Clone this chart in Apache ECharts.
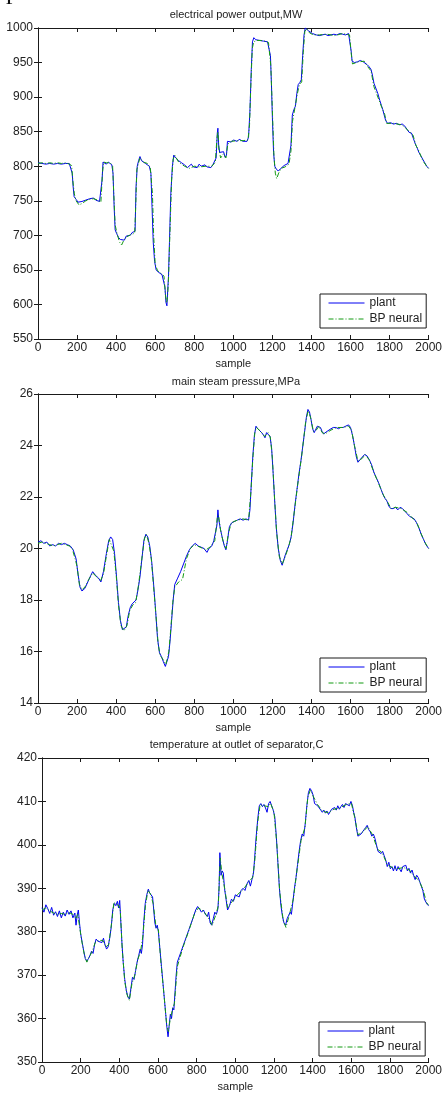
<!DOCTYPE html>
<html>
<head>
<meta charset="utf-8">
<script src="https://cdn.jsdelivr.net/npm/echarts@6/dist/echarts.min.js"></script>
<style>
html,body{margin:0;padding:0;background:#fff;}
#chart{width:445px;height:1093px;}
</style>
</head>
<body>
<div id="chart"></div>
<script>
const titles = ['electrical power output,MW', 'main steam pressure,MPa', 'temperature at outlet of separator,C'];
const seriesNames = ['plant', 'BP neural'];
const xTicks = { min: 0, max: 2000, interval: 200 };
const yTicks = [
  { min: 550, max: 1000, interval: 50 },
  { min: 14, max: 26, interval: 2 },
  { min: 350, max: 420, interval: 10 }
];

const powerPlant = [[0,805],[10,806],[20,804],[30,805],[40,803],[50,805],[60,804],[70,806],[80,803],[90,805],[100,804],[110,806],[120,803],[130,805],[140,804],[150,802],[160,804],[170,803],[175,790],[180,770],[185,756],[195,752],[205,748],[215,746],[225,749],[235,748],[245,751],[255,750],[265,753],[275,752],[285,754],[295,751],[305,752],[315,749],[322,750],[328,780],[333,806],[340,808],[350,803],[360,806],[370,804],[378,802],[384,790],[390,740],[395,708],[402,703],[412,697],[422,694],[432,696],[442,693],[452,699],[462,701],[472,700],[482,704],[492,702],[497,706],[502,770],[508,800],[515,808],[522,814],[530,808],[540,806],[550,804],[560,806],[570,800],[578,790],[584,740],[590,690],[597,662],[605,650],[615,647],[625,646],[635,643],[645,644],[650,625],[655,603],[660,598],[664,620],[668,640],[673,690],[680,760],[688,800],[695,816],[700,817],[705,812],[720,808],[735,805],[750,802],[765,798],[775,800],[785,803],[795,799],[805,801],[815,798],[825,803],[835,800],[845,798],[855,802],[865,799],[875,801],[885,798],[895,802],[905,803],[912,812],[918,848],[921,855],[925,830],[930,820],[940,818],[950,821],[958,813],[965,816],[970,836],[980,838],[990,835],[1000,838],[1010,837],[1020,836],[1030,839],[1040,837],[1050,836],[1060,838],[1070,836],[1078,842],[1085,880],[1092,940],[1098,980],[1105,986],[1115,983],[1125,984],[1135,982],[1145,983],[1155,981],[1165,982],[1175,980],[1185,978],[1190,960],[1195,920],[1200,870],[1206,820],[1212,800],[1220,796],[1230,793],[1240,796],[1250,798],[1260,801],[1270,800],[1280,804],[1288,806],[1295,830],[1302,874],[1310,882],[1318,887],[1325,905],[1332,918],[1340,921],[1348,925],[1355,960],[1362,990],[1368,1000],[1375,998],[1385,996],[1395,994],[1405,992],[1415,991],[1425,990],[1440,989],[1455,990],[1470,991],[1485,989],[1500,990],[1515,991],[1530,990],[1545,992],[1560,991],[1575,990],[1590,992],[1598,990],[1604,965],[1608,952],[1620,950],[1635,951],[1650,953],[1665,951],[1675,953],[1685,947],[1695,944],[1705,940],[1712,932],[1720,920],[1730,918],[1740,905],[1750,895],[1758,888],[1765,882],[1772,880],[1780,866],[1790,862],[1805,863],[1820,861],[1835,862],[1850,860],[1865,861],[1878,858],[1890,853],[1900,849],[1912,848],[1922,840],[1932,832],[1942,826],[1950,820],[1960,815],[1970,810],[1980,805],[1990,800],[2000,797]];

const powerNeural = [[0,804],[20,805],[40,804],[60,805],[80,804],[100,805],[120,804],[140,805],[160,803],[172,801],[178,780],[186,760],[195,750],[210,744],[225,746],[245,750],[265,752],[285,753],[305,751],[322,748],[330,790],[336,806],[350,805],[370,805],[382,800],[388,760],[395,715],[405,702],[418,690],[428,686],[438,692],[455,698],[475,701],[495,703],[500,740],[506,795],[515,805],[522,812],[540,806],[560,804],[575,798],[586,760],[592,700],[600,658],[612,649],[630,645],[645,641],[652,615],[658,602],[663,610],[668,635],[675,700],[684,780],[692,810],[700,816],[720,806],[750,800],[775,797],[800,800],[830,799],[860,800],[890,800],[908,806],[916,840],[921,850],[926,825],[935,812],[950,818],[962,812],[972,832],[990,836],[1020,837],[1050,837],[1075,838],[1083,860],[1090,920],[1097,970],[1104,980],[1120,982],[1140,982],[1160,981],[1180,979],[1192,945],[1200,880],[1208,815],[1215,790],[1222,782],[1232,790],[1245,797],[1265,799],[1285,803],[1295,822],[1303,865],[1315,884],[1328,905],[1338,918],[1350,922],[1358,965],[1366,995],[1375,999],[1390,993],[1410,990],[1440,990],[1480,991],[1520,989],[1560,992],[1595,990],[1604,962],[1610,948],[1640,951],[1670,952],[1688,944],[1705,938],[1720,915],[1740,900],[1760,885],[1775,875],[1785,862],[1820,862],[1860,860],[1880,856],[1900,850],[1920,845],[1935,830],[1950,822],[1970,808],[2000,796]];

const pressurePlant = [[0,20.25],[15,20.3],[30,20.2],[45,20.25],[60,20.1],[75,20.15],[90,20.1],[105,20.2],[120,20.15],[135,20.2],[150,20.15],[165,20.1],[180,19.95],[195,19.6],[205,19.0],[215,18.5],[225,18.35],[240,18.45],[255,18.7],[270,18.95],[280,19.1],[295,18.95],[310,18.85],[322,18.7],[335,19.1],[350,19.8],[362,20.3],[372,20.45],[382,20.35],[392,19.8],[402,18.9],[412,17.9],[422,17.2],[432,16.85],[442,16.8],[452,16.95],[462,17.4],[472,17.7],[482,17.85],[492,17.8],[502,18.0],[512,18.4],[522,18.9],[532,19.6],[542,20.3],[552,20.55],[562,20.45],[572,20.1],[582,19.5],[592,18.6],[602,17.6],[612,16.5],[622,15.95],[632,15.8],[642,15.6],[652,15.42],[660,15.4],[668,15.8],[676,16.4],[684,17.2],[692,18.0],[700,18.6],[715,18.85],[730,19.1],[745,19.4],[760,19.7],[775,19.95],[790,20.1],[805,20.2],[820,20.1],[835,20.05],[850,20.0],[865,19.85],[875,20.0],[890,20.1],[900,20.3],[910,20.35],[916,20.9],[921,21.5],[926,21.1],[934,20.75],[944,20.4],[954,20.1],[962,19.95],[970,20.3],[980,20.85],[992,21.0],[1005,21.05],[1020,21.1],[1035,21.15],[1050,21.1],[1065,21.15],[1078,21.1],[1085,21.5],[1092,22.5],[1100,23.6],[1108,24.4],[1116,24.75],[1125,24.65],[1135,24.6],[1145,24.5],[1155,24.4],[1162,24.3],[1170,24.5],[1180,24.5],[1188,24.35],[1196,23.9],[1204,22.9],[1212,21.8],[1220,20.8],[1230,20.0],[1240,19.55],[1250,19.35],[1258,19.4],[1266,19.75],[1276,19.95],[1286,20.15],[1296,20.45],[1306,21.0],[1316,21.7],[1326,22.3],[1336,22.9],[1346,23.4],[1356,24.0],[1366,24.6],[1374,25.1],[1382,25.4],[1390,25.3],[1398,25.0],[1406,24.65],[1414,24.5],[1422,24.55],[1430,24.75],[1438,24.8],[1446,24.7],[1454,24.55],[1462,24.45],[1470,24.5],[1480,24.55],[1490,24.6],[1500,24.65],[1512,24.7],[1525,24.7],[1538,24.65],[1550,24.7],[1562,24.7],[1575,24.75],[1590,24.8],[1600,24.7],[1610,24.4],[1620,24.0],[1630,23.55],[1638,23.35],[1648,23.4],[1660,23.55],[1672,23.65],[1684,23.6],[1696,23.45],[1708,23.25],[1720,22.95],[1732,22.75],[1744,22.55],[1756,22.3],[1766,22.1],[1776,21.95],[1786,21.85],[1796,21.65],[1806,21.55],[1818,21.55],[1830,21.6],[1842,21.5],[1854,21.6],[1866,21.55],[1878,21.45],[1890,21.35],[1902,21.25],[1914,21.2],[1926,21.15],[1938,21.0],[1950,20.8],[1962,20.55],[1974,20.35],[1986,20.15],[2000,20.0]];

const pressureNeural = [[0,20.2],[20,20.25],[40,20.2],[60,20.15],[80,20.1],[100,20.15],[120,20.2],[140,20.15],[160,20.1],[175,20.0],[190,19.6],[200,19.3],[212,18.6],[225,18.4],[240,18.5],[260,18.8],[280,19.05],[300,18.9],[320,18.75],[335,19.0],[350,19.7],[365,20.35],[375,20.4],[388,19.9],[400,19.0],[412,17.8],[425,17.0],[440,16.8],[455,17.0],[470,17.6],[485,17.8],[500,17.9],[515,18.6],[530,19.5],[545,20.4],[555,20.55],[568,20.2],[580,19.6],[592,18.5],[605,17.3],[615,16.3],[625,15.85],[635,15.75],[645,15.8],[655,15.5],[662,15.55],[670,16.0],[680,16.9],[690,17.9],[700,18.5],[720,18.7],[740,18.8],[760,19.6],[780,20.0],[800,20.15],[830,20.05],[860,19.95],[880,20.05],[905,20.3],[918,21.2],[924,21.3],[935,20.7],[950,20.2],[963,20.0],[975,20.6],[990,21.0],[1020,21.1],[1050,21.15],[1078,21.1],[1090,22.2],[1100,23.5],[1110,24.5],[1118,24.7],[1140,24.55],[1160,24.35],[1178,24.5],[1190,24.3],[1200,23.5],[1210,22.1],[1222,20.6],[1235,19.7],[1250,19.4],[1262,19.6],[1280,20.0],[1295,20.4],[1310,21.3],[1330,22.5],[1350,23.6],[1370,24.9],[1383,25.35],[1395,25.1],[1410,24.55],[1425,24.6],[1438,24.75],[1455,24.5],[1470,24.45],[1500,24.6],[1530,24.7],[1560,24.7],[1590,24.75],[1605,24.6],[1620,24.0],[1638,23.4],[1660,23.5],[1675,23.65],[1695,23.45],[1720,22.95],[1745,22.5],[1770,22.05],[1790,21.8],[1808,21.55],[1830,21.6],[1860,21.55],[1890,21.4],[1915,21.2],[1940,21.0],[1960,20.6],[1980,20.25],[2000,20.0]];

const tempPlant = [[0,385.5],[10,384.5],[20,386.2],[30,385.3],[40,384.2],[50,385.6],[60,383.8],[70,384.6],[80,383.5],[90,384.8],[100,383.2],[110,384.5],[120,383.6],[130,385],[140,384],[150,384.8],[160,383.2],[170,384.3],[176,381.5],[182,383.8],[188,385],[194,382],[200,379.5],[208,377.5],[216,375.5],[224,373.8],[232,373.2],[240,373.8],[248,374.5],[256,375.5],[264,375],[272,377],[280,378.3],[290,377.8],[300,378.2],[310,377.5],[318,378.5],[326,377],[334,376],[342,376.5],[350,378.5],[358,381],[366,385],[374,386.5],[382,386],[390,387],[396,385.5],[402,387.2],[408,382],[414,377],[420,373],[428,369],[436,366.5],[444,365],[452,364.5],[460,367],[468,369.5],[476,369],[484,371],[492,373],[500,374.5],[508,376],[514,375],[520,377],[526,382],[534,386.5],[542,388.5],[550,389.8],[556,389],[564,388.5],[572,388],[578,385],[584,382],[590,380.8],[596,381.5],[602,380],[610,376],[618,372],[626,368],[634,364],[640,361],[646,358],[652,355.8],[658,358.5],[664,361],[670,360],[676,362.5],[682,362],[688,366],[694,370],[700,373],[720,375.5],[740,378],[760,380.5],[780,383],[795,385],[805,385.8],[815,385.2],[825,384.5],[835,385],[845,384],[855,383.5],[862,384.5],[870,382],[878,381.5],[886,383],[894,384.5],[902,384],[910,385.3],[916,390],[920,398.2],[926,393],[932,394],[938,393.5],[944,390],[952,387.5],[960,385],[970,386],[980,387.5],[990,387],[1000,388.5],[1010,388.8],[1020,388],[1030,389.5],[1040,390],[1050,389.5],[1060,391],[1070,391.8],[1078,390.5],[1086,392],[1094,393.5],[1100,397],[1108,402],[1116,406],[1124,409],[1132,409.5],[1140,408.8],[1148,409.3],[1156,408.5],[1164,407.5],[1172,409.5],[1180,410],[1188,409],[1196,408],[1204,406.5],[1212,402],[1220,396],[1228,390],[1236,386],[1244,383.5],[1252,382],[1260,381.5],[1268,383],[1276,383.8],[1284,384.5],[1290,384],[1298,387],[1306,390],[1314,392.5],[1322,395.5],[1330,398.5],[1338,401],[1346,402.5],[1354,402],[1362,405],[1370,409],[1378,412],[1386,413],[1394,412.5],[1402,411.5],[1410,409.5],[1418,409.8],[1426,409],[1434,409.3],[1442,408],[1450,407.5],[1458,408],[1466,407.3],[1474,407.8],[1482,407],[1490,407.6],[1498,408.2],[1506,407.8],[1514,408.6],[1522,408],[1530,409],[1538,408.2],[1546,408.8],[1554,409.3],[1562,408.6],[1570,409.5],[1580,409.8],[1590,409],[1598,410],[1606,409],[1612,407.5],[1618,406.5],[1626,404],[1634,402],[1642,401.8],[1650,402.5],[1658,403],[1666,403.5],[1674,404],[1682,404.5],[1690,403.5],[1698,403],[1706,402],[1714,402.5],[1722,401.5],[1730,400],[1738,398.5],[1746,398.5],[1754,398],[1762,398.5],[1770,397.5],[1778,396.5],[1786,395],[1794,396],[1802,394.5],[1810,395],[1818,394],[1826,395.2],[1834,394],[1842,395],[1850,394.6],[1858,393.8],[1866,395],[1874,394.6],[1882,395.3],[1890,394],[1898,394.6],[1906,393.5],[1914,394.2],[1922,393],[1930,392],[1938,393],[1946,392.5],[1954,391.5],[1962,390.5],[1970,389.5],[1978,387.5],[1986,386.8],[1994,386.2],[2000,386]];

const tempNeural = [[0,385],[20,385.5],[40,384.8],[60,384.3],[80,384],[100,384.2],[120,384],[140,384.4],[160,384],[175,383],[185,384],[195,381],[205,378],[220,374.5],[232,373],[245,374.2],[260,375.5],[275,377.5],[295,378],[315,378],[330,376.5],[345,377],[360,382],[372,386.8],[385,386.3],[398,386],[405,385],[415,376],[428,368.5],[440,365.5],[452,364.2],[465,368],[480,370],[495,373.5],[510,375.5],[522,379],[535,386],[548,389.5],[560,388.8],[575,386.5],[590,381],[602,380.5],[615,373],[630,366],[645,358.5],[654,357],[662,359.5],[672,361.5],[685,363.5],[700,372],[730,376.5],[760,380.3],[790,384.3],[810,385.5],[840,384.5],[870,382.5],[880,381.5],[900,384],[912,386],[918,393],[922,397],[930,393.5],[945,390],[960,385.5],[985,387],[1010,388.5],[1040,389.7],[1070,391.5],[1090,392.5],[1100,396],[1115,405],[1128,409.2],[1150,409],[1170,408.8],[1182,409.6],[1200,407.5],[1215,400],[1230,389],[1248,382.5],[1262,381],[1280,384],[1300,387.5],[1320,394.5],[1340,401],[1360,404],[1375,411],[1388,412.6],[1405,411],[1425,409.3],[1450,407.8],[1480,407.4],[1510,408.2],[1540,408.5],[1570,409.2],[1600,409.6],[1615,406.8],[1635,402.3],[1660,403],[1685,404.2],[1710,402.3],[1735,399],[1760,398.2],[1785,395.5],[1810,394.8],[1840,394.5],[1870,394.8],[1900,394.2],[1925,392.8],[1950,391.8],[1970,389.8],[1990,386.6],[2000,386.2]];

const plantSets = [powerPlant, pressurePlant, tempPlant];
const neuralSets = [powerNeural, pressureNeural, tempNeural];

const FONT = '"Liberation Sans", Arial, sans-serif';
const AX = '#1a1a1a';
const BLUE = '#0000f0';
const GREEN = '#129a12';

const grids = [
  { left: 38, top: 28, width: 396, height: 311 },
  { left: 38, top: 394, width: 396, height: 309 },
  { left: 42, top: 758, width: 389, height: 308 }
];
const legendPos = [
  { left: 320, top: 294 },
  { left: 320, top: 658 },
  { left: 319, top: 1022 }
];
const titleY = [15, 382, 745];

const plainNum = v => String(v);

const xAxes = [], yAxes = [], series = [], legends = [], graphics = [];
grids.forEach((g, i) => {
  const common = {
    gridIndex: i, type: 'value',
    axisLine: { show: true, lineStyle: { color: AX, width: 1 } },
    axisTick: { show: true, inside: true, length: 4, lineStyle: { color: AX } },
    splitLine: { show: false }
  };
  xAxes.push(Object.assign({}, common, xTicks, {
    position: 'bottom',
    name: 'sample', nameLocation: 'middle', nameGap: 19,
    nameTextStyle: { fontFamily: FONT, fontSize: 11, color: '#222' },
    axisLabel: { show: true, margin: 3, fontFamily: FONT, fontSize: 12, color: '#222', showMinLabel: true, showMaxLabel: true, formatter: plainNum }
  }));
  xAxes.push(Object.assign({}, common, xTicks, {
    position: 'top', axisLabel: { show: false }
  }));
  yAxes.push(Object.assign({}, common, yTicks[i], {
    position: 'left',
    axisLabel: { show: true, margin: 5, fontFamily: FONT, fontSize: 12, color: '#222', showMinLabel: true, showMaxLabel: true, formatter: plainNum }
  }));
  yAxes.push(Object.assign({}, common, yTicks[i], {
    position: 'right', axisLabel: { show: false }
  }));
  series.push({
    name: seriesNames[0], type: 'line', xAxisIndex: 2 * i, yAxisIndex: 2 * i,
    data: plantSets[i], symbol: 'none', showSymbol: false,
    lineStyle: { color: BLUE, width: 1 }, itemStyle: { color: BLUE }, z: 2
  });
  series.push({
    name: seriesNames[1], type: 'line', xAxisIndex: 2 * i, yAxisIndex: 2 * i,
    data: neuralSets[i], symbol: 'none', showSymbol: false,
    lineStyle: { color: GREEN, width: 1, type: [5, 2, 1, 2] }, itemStyle: { color: GREEN }, z: 3
  });
  legends.push({
    data: seriesNames, orient: 'vertical', left: legendPos[i].left, top: legendPos[i].top,
    padding: [3, 4, 3, 8], itemWidth: 36, itemHeight: 12, itemGap: 4,
    selectedMode: false, backgroundColor: '#fff', borderColor: AX, borderWidth: 1, borderRadius: 0,
    itemStyle: { opacity: 0, borderWidth: 0 },
    lineStyle: { width: 1 },
    textStyle: { fontFamily: FONT, fontSize: 12, color: '#222' }
  });
  graphics.push({
    type: 'text', x: g.left + g.width / 2, y: titleY[i],
    style: { text: titles[i], font: '11px ' + FONT, fill: '#222', textAlign: 'center', textVerticalAlign: 'middle' }
  });
});
graphics.push({
  type: 'text', x: 6, y: 5,
  style: { text: 'p', font: '26px "Liberation Serif", serif', fill: '#111', textAlign: 'left', textVerticalAlign: 'bottom' }
});

const chart = echarts.init(document.getElementById('chart'), null, { renderer: 'canvas' });
chart.setOption({
  animation: false,
  backgroundColor: '#fff',
  grid: grids,
  xAxis: xAxes,
  yAxis: yAxes,
  series: series,
  legend: legends,
  graphic: graphics
});
</script>
</body>
</html>
